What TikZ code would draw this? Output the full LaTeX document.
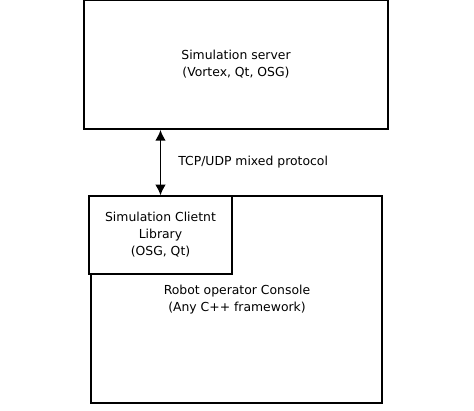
\documentclass[tikz,border=0pt]{standalone}
\usepackage{fontspec}
\setmainfont{DejaVu Sans}
\usepackage{xcolor}
\usepackage{tikz}
\usetikzlibrary{arrows.meta}

\begin{document}
\begin{tikzpicture}[x=0.75pt,y=0.75pt,yscale=-1,xscale=1]
\tikzset{
  blockbox/.style={draw, line width=1.1pt, fill=white, inner sep=0pt, align=center,
    font=\fontsize{9.3}{12.8}\selectfont},
  plaintext/.style={inner sep=0.75pt, font=\fontsize{9.3}{12.8}\selectfont}
}
\useasboundingbox (0,0) rectangle (474,410);

% Simulation server
\node [blockbox, minimum width=228pt, minimum height=97pt] (server) at (236,64.5) {Simulation server\\(Vortex, Qt, OSG)};
% Robot operator console
\node [blockbox, minimum width=218pt, minimum height=155pt] (console) at (236.5,299.5) {};
\node [plaintext, align=center] (consoletext) at (237,299.5) {Robot operator Console\\(Any C++ framework)};
% Client library
\node [blockbox, line width=1.4pt, minimum width=107pt, minimum height=58pt] (client) at (160.5,235) {Simulation Clietnt\\Library\\(OSG, Qt)};

% Protocol link
\draw [line width=1.4pt, {Latex[length=8pt,width=8pt]}-{Latex[length=8pt,width=8pt]}] (client.north |- server.south) -- (client.north);
% Text Node
\node [plaintext, anchor=west] (protocol) at (177,162.5) {TCP/UDP mixed protocol};

\end{tikzpicture}
\end{document}
